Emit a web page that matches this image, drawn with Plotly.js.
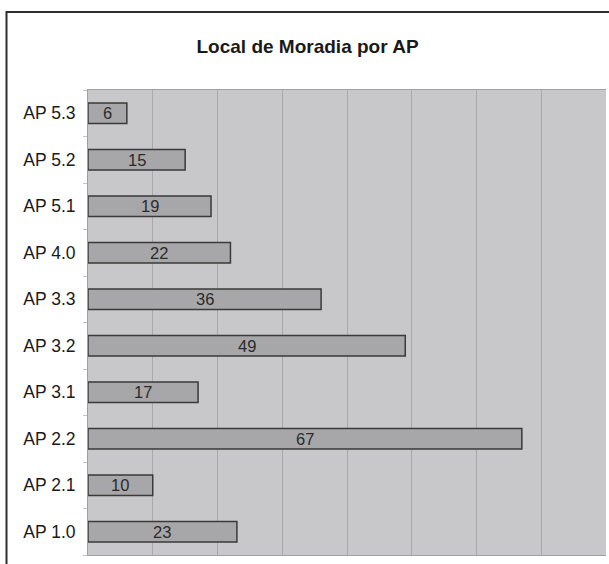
<!DOCTYPE html>
<html>
<head>
<meta charset="utf-8">
<script src="https://cdn.plot.ly/plotly-3.0.1.min.js"></script>
<style>
  html, body { margin: 0; padding: 0; background: #ffffff; }
  #chart { width: 609px; height: 564px; }
</style>
</head>
<body>
<div id="chart"></div>
<script>
// Residence area (AP) counts, listed bottom to top
const areas = ["AP 1.0", "AP 2.1", "AP 2.2", "AP 3.1", "AP 3.2", "AP 3.3", "AP 4.0", "AP 5.1", "AP 5.2", "AP 5.3"];
const counts = [23, 10, 67, 17, 49, 36, 22, 19, 15, 6];
const gridValues = [0, 10, 20, 30, 40, 50, 60, 70, 80];

const trace = {
  type: "bar",
  orientation: "h",
  y: areas,
  x: counts,
  marker: { color: "#a7a7a9", line: { color: "#3a3a3a", width: 1.5 } },
  hoverinfo: "skip"
};

// Value labels centred in each bar (full size, no shrink-to-fit)
const valueLabels = areas.map((a, i) => ({
  x: counts[i] / 2,
  y: a,
  xref: "x", yref: "y",
  text: String(counts[i]),
  showarrow: false,
  xanchor: "center", yanchor: "middle",
  font: { family: "Liberation Sans, Arial, sans-serif", size: 16.5, color: "#2b2b2b" }
}));

const layout = {
  width: 609,
  height: 564,
  margin: { l: 88, r: 3, t: 90, b: 9 },
  paper_bgcolor: "#ffffff",
  plot_bgcolor: "#c8c8cb",
  showlegend: false,
  bargap: 0.56,
  title: {
    text: "<b>Local de Moradia por AP</b>",
    font: { family: "Liberation Sans, Arial, sans-serif", size: 19, color: "#1a1a1a" },
    x: 0.505, xanchor: "center",
    y: 1 - 46 / 564, yanchor: "middle", yref: "container"
  },
  xaxis: {
    range: [0, 80],
    tickvals: gridValues,
    showticklabels: false,
    showgrid: true,
    gridcolor: "#a9a9ab",
    gridwidth: 1,
    zeroline: false,
    showline: true,
    linecolor: "#a0a0a2",
    linewidth: 1,
    mirror: true,
    ticks: ""
  },
  yaxis: {
    type: "category",
    categoryorder: "array",
    categoryarray: areas,
    tickson: "boundaries",
    ticks: "outside",
    ticklen: 4,
    tickcolor: "#c4c4c4",
    ticklabelstandoff: 8,
    tickfont: { family: "Liberation Sans, Arial, sans-serif", size: 17.5, color: "#1a1a1a" },
    showgrid: false,
    showline: true,
    linecolor: "#a0a0a2",
    linewidth: 1,
    zeroline: false
  },
  annotations: valueLabels,
  shapes: [{
    type: "rect",
    xref: "paper", yref: "paper",
    x0: (6.5 - 88) / 518, x1: (614 - 88) / 518,
    y0: (555 - 575) / 465, y1: (555 - 12) / 465,
    line: { color: "#2e2e2e", width: 2 },
    fillcolor: "rgba(0,0,0,0)",
    layer: "above"
  }]
};

Plotly.newPlot("chart", [trace], layout, { displayModeBar: false, staticPlot: true });
</script>
</body>
</html>
